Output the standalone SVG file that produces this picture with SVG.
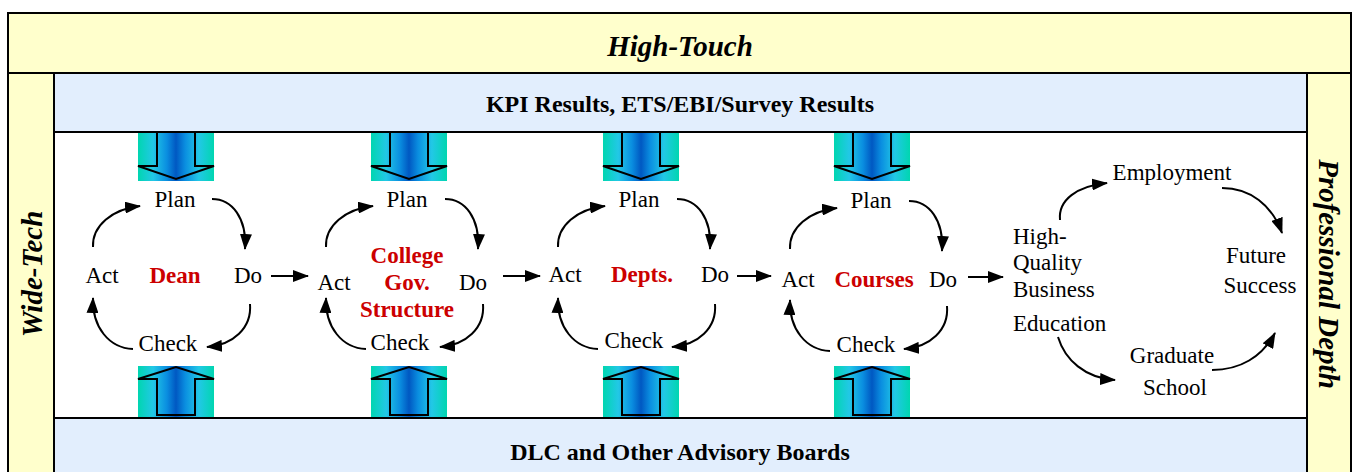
<svg xmlns="http://www.w3.org/2000/svg" width="1352" height="472" viewBox="0 0 1352 472">
<style>
.t{font-family:"Liberation Serif","Times New Roman",serif;font-size:23px;fill:#000}
.c{text-anchor:middle}
.r{font-weight:bold;fill:#cc0000}
.hb{font-family:"Liberation Serif","Times New Roman",serif;font-size:24px;font-weight:bold;text-anchor:middle;fill:#000}
.bi{font-family:"Liberation Serif","Times New Roman",serif;font-size:29px;font-weight:bold;font-style:italic;text-anchor:middle;fill:#000}
.ln{fill:none;stroke:#000;stroke-width:2;marker-end:url(#ah)}
.box{stroke:#000;stroke-width:2}
.ba{fill:none;stroke:#000;stroke-width:2;stroke-linejoin:miter}
</style>
<defs>
<marker id="ah" viewBox="0 0 16 12" markerWidth="16" markerHeight="12" markerUnits="userSpaceOnUse" refX="15" refY="6" orient="auto">
<path d="M0,0 L16,6 L0,12 z" fill="#000"/>
</marker>
<linearGradient id="g" x1="0" y1="0" x2="1" y2="0">
<stop offset="0" stop-color="#00d6b0"/>
<stop offset="0.2" stop-color="#22c8e6"/>
<stop offset="0.38" stop-color="#0a8ee0"/>
<stop offset="0.5" stop-color="#0058c2"/>
<stop offset="0.62" stop-color="#0a8ee0"/>
<stop offset="0.8" stop-color="#22c8e6"/>
<stop offset="1" stop-color="#00d6b0"/>
</linearGradient>
</defs>

<g id="frame">
<rect class="box" x="8" y="13" width="1343" height="480" fill="#ffffcc"/>
<rect class="box" x="54" y="73" width="1253" height="420" fill="#ffffff"/>
<line class="box" x1="8" y1="73" x2="1351" y2="73"/>
</g>

<g id="high-touch">
<text class="bi" x="680" y="56">High-Touch</text>
</g>
<g id="wide-tech">
<text class="bi" transform="translate(42,274) rotate(-90)">Wide-Tech</text>
</g>
<g id="professional-depth">
<text class="bi" transform="translate(1319,274) rotate(90)">Professional Depth</text>
</g>

<g id="kpi">
<rect class="box" x="54" y="73" width="1253" height="59" fill="#e2eefd"/>
<text class="hb" x="680" y="112">KPI Results, ETS/EBI/Survey Results</text>
</g>
<g id="dlc">
<rect class="box" x="54" y="418" width="1253" height="70" fill="#e2eefd"/>
<text class="hb" x="680" y="460">DLC and Other Advisory Boards</text>
</g>

<g id="input-arrows">
<rect x="138" y="133" width="76" height="48" fill="url(#g)"/>
<polyline class="ba" points="157,133 157,166 138,166 176,179 214,166 195,166 195,133"/>
<rect x="371" y="133" width="76" height="48" fill="url(#g)"/>
<polyline class="ba" points="390,133 390,166 371,166 409,179 447,166 428,166 428,133"/>
<rect x="603" y="133" width="76" height="48" fill="url(#g)"/>
<polyline class="ba" points="622,133 622,166 603,166 641,179 679,166 660,166 660,133"/>
<rect x="834" y="133" width="76" height="48" fill="url(#g)"/>
<polyline class="ba" points="853,133 853,166 834,166 872,179 910,166 891,166 891,133"/>

<rect x="138" y="366" width="76" height="51" fill="url(#g)"/>
<polygon class="ba" points="157,415 157,379 138,379 176,367 214,379 195,379 195,415"/>
<rect x="371" y="366" width="76" height="51" fill="url(#g)"/>
<polygon class="ba" points="390,415 390,379 371,379 409,367 447,379 428,379 428,415"/>
<rect x="603" y="366" width="76" height="51" fill="url(#g)"/>
<polygon class="ba" points="622,415 622,379 603,379 641,367 679,379 660,379 660,415"/>
<rect x="834" y="366" width="76" height="51" fill="url(#g)"/>
<polygon class="ba" points="853,415 853,379 834,379 872,367 910,379 891,379 891,415"/>
</g>

<g id="cycle-dean">
<text class="t c" x="175" y="207">Plan</text>
<text class="t c" x="102" y="283">Act</text>
<text class="t c r" x="175" y="283">Dean</text>
<text class="t c" x="248" y="283">Do</text>
<text class="t c" x="168" y="351">Check</text>
</g>

<g id="cycle-college">
<text class="t c" x="407" y="207">Plan</text>
<text class="t c" x="334" y="290">Act</text>
<text class="t c r" x="407" y="263">College</text>
<text class="t c r" x="407" y="290">Gov.</text>
<text class="t c r" x="407" y="317">Structure</text>
<text class="t c" x="473" y="290">Do</text>
<text class="t c" x="400" y="350">Check</text>
</g>

<g id="cycle-depts">
<text class="t c" x="639" y="207">Plan</text>
<text class="t c" x="565" y="282">Act</text>
<text class="t c r" x="642" y="282">Depts.</text>
<text class="t c" x="715" y="282">Do</text>
<text class="t c" x="634" y="348">Check</text>
</g>

<g id="cycle-courses">
<text class="t c" x="871" y="208">Plan</text>
<text class="t c" x="798" y="287">Act</text>
<text class="t c r" x="874" y="287">Courses</text>
<text class="t c" x="943" y="287">Do</text>
<text class="t c" x="866" y="352">Check</text>
</g>

<g id="education">
<text class="t" x="1013" y="244">High-</text>
<text class="t" x="1013" y="270">Quality</text>
<text class="t" x="1013" y="297">Business</text>
<text class="t" x="1013" y="331">Education</text>
</g>
<g id="employment">
<text class="t c" x="1172" y="180">Employment</text>
</g>
<g id="future-success">
<text class="t c" x="1256" y="263">Future</text>
<text class="t c" x="1260" y="293">Success</text>
</g>
<g id="graduate-school">
<text class="t c" x="1172" y="363">Graduate</text>
<text class="t c" x="1175" y="395">School</text>
</g>

<g id="connectors">
<g id="pdca-1">
<path class="ln" d="M93,247 C92,226 112,209 140,206"/>
<path class="ln" d="M212,199 C232,199 247,218 245,249"/>
<path class="ln" d="M250,304 C252,328 233,345 207,347"/>
<path class="ln" d="M133,349 C109,348 92,327 93,298"/>
</g>
<g id="pdca-2" transform="translate(233,0)">
<path class="ln" d="M93,247 C92,226 112,209 140,206"/>
<path class="ln" d="M212,199 C232,199 247,218 245,249"/>
<path class="ln" d="M250,304 C252,328 233,345 207,347"/>
<path class="ln" d="M133,349 C109,348 92,327 93,298"/>
</g>
<g id="pdca-3" transform="translate(465,0)">
<path class="ln" d="M93,247 C92,226 112,209 140,206"/>
<path class="ln" d="M212,199 C232,199 247,218 245,249"/>
<path class="ln" d="M250,304 C252,328 233,345 207,347"/>
<path class="ln" d="M133,349 C109,348 92,327 93,298"/>
</g>
<g id="pdca-4" transform="translate(697,2)">
<path class="ln" d="M93,247 C92,226 112,209 140,206"/>
<path class="ln" d="M212,199 C232,199 247,218 245,249"/>
<path class="ln" d="M250,304 C252,328 233,345 207,347"/>
<path class="ln" d="M133,349 C109,348 92,327 93,298"/>
</g>
<path class="ln" d="M271,276 L308,276"/>
<path class="ln" d="M503,276 L540,276"/>
<path class="ln" d="M737,276 L771,276"/>
<path class="ln" d="M968,277 L1003,277"/>
<path class="ln" d="M1060,220 C1058,200 1077,186 1107,183"/>
<path class="ln" d="M1222,188 C1250,188 1272,205 1282,233"/>
<path class="ln" d="M1058,337 C1065,360 1085,378 1115,380"/>
<path class="ln" d="M1212,370 C1240,370 1262,357 1275,333"/>
</g>
</svg>
